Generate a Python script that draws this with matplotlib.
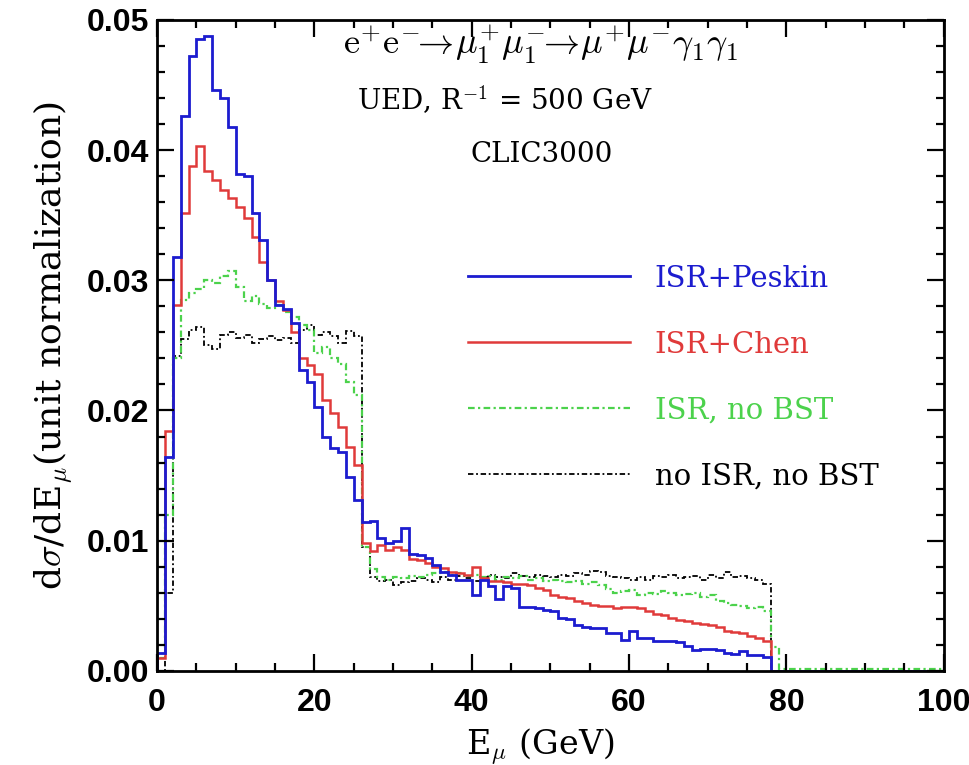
import matplotlib
matplotlib.use("Agg")
import matplotlib.pyplot as plt
import matplotlib.ticker as ticker
import numpy as np

plt.rcParams['mathtext.fontset'] = 'cm'

# 1 GeV bins from 0 to 100 GeV
edges = np.arange(0, 101)

peskin = [0.0014, 0.0164, 0.0318, 0.0426, 0.0472, 0.0485, 0.0488, 0.0446, 0.0440, 0.0418,
          0.0382, 0.0380, 0.0352, 0.0331, 0.0300, 0.0281, 0.0278, 0.0267, 0.0231, 0.0222,
          0.0203, 0.0180, 0.0171, 0.0168, 0.0149, 0.0131, 0.0114, 0.0115, 0.0102, 0.0098,
          0.0100, 0.0110, 0.0090, 0.0089, 0.0087, 0.0081, 0.0076, 0.0074, 0.0070, 0.0070,
          0.0058, 0.0070, 0.0065, 0.0055, 0.0065, 0.0064, 0.0049, 0.0049, 0.0048, 0.0047,
          0.0046, 0.0041, 0.0040, 0.0035, 0.0034, 0.0033, 0.0033, 0.0029, 0.0029, 0.0024,
          0.0031, 0.0025, 0.0025, 0.0023, 0.0023, 0.0023, 0.0022, 0.0019, 0.0016, 0.0017,
          0.0017, 0.0016, 0.0014, 0.0013, 0.0015, 0.0012, 0.0012, 0.0011, 0.0, 0.0,
          0.0, 0.0, 0.0, 0.0, 0.0, 0.0, 0.0, 0.0, 0.0, 0.0,
          0.0, 0.0, 0.0, 0.0, 0.0, 0.0, 0.0, 0.0, 0.0, 0.0]

chen = [0.0010, 0.0184, 0.0281, 0.0352, 0.0388, 0.0403, 0.0384, 0.0377, 0.0369, 0.0363,
        0.0356, 0.0348, 0.0333, 0.0314, 0.0300, 0.0284, 0.0277, 0.0260, 0.0240, 0.0235,
        0.0228, 0.0208, 0.0198, 0.0187, 0.0172, 0.0158, 0.0098, 0.0092, 0.0097, 0.0093,
        0.0095, 0.0093, 0.0086, 0.0085, 0.0083, 0.0080, 0.0079, 0.0076, 0.0075, 0.0074,
        0.0080, 0.0071, 0.0069, 0.0069, 0.0068, 0.0067, 0.0067, 0.0066, 0.0064, 0.0062,
        0.0058, 0.0057, 0.0056, 0.0054, 0.0052, 0.0051, 0.0050, 0.0050, 0.0048, 0.0049,
        0.0049, 0.0048, 0.0046, 0.0044, 0.0043, 0.0041, 0.0039, 0.0038, 0.0037, 0.0036,
        0.0035, 0.0034, 0.0031, 0.0030, 0.0029, 0.0027, 0.0025, 0.0023, 0.0, 0.0,
        0.0, 0.0, 0.0, 0.0, 0.0, 0.0, 0.0, 0.0, 0.0, 0.0,
        0.0, 0.0, 0.0, 0.0, 0.0, 0.0, 0.0, 0.0, 0.0, 0.0]

isr_nobst = [0.0010, 0.0120, 0.0240, 0.0285, 0.0290, 0.0293, 0.0300, 0.0298, 0.0303, 0.0307,
             0.0295, 0.0284, 0.0288, 0.0282, 0.0279, 0.0281, 0.0276, 0.0272, 0.0266, 0.0262,
             0.0244, 0.0249, 0.0240, 0.0236, 0.0222, 0.0212, 0.0095, 0.0078, 0.0072, 0.0070,
             0.0072, 0.0071, 0.0073, 0.0072, 0.0074, 0.0075, 0.0076, 0.0074, 0.0075, 0.0073,
             0.0074, 0.0072, 0.0073, 0.0070, 0.0072, 0.0071, 0.0073, 0.0070, 0.0071, 0.0069,
             0.0070, 0.0069, 0.0068, 0.0069, 0.0067, 0.0068, 0.0066, 0.0063, 0.0060, 0.0061,
             0.0062, 0.0058, 0.0060, 0.0059, 0.0061, 0.0060, 0.0058, 0.0059, 0.0060, 0.0057,
             0.0058, 0.0054, 0.0052, 0.0051, 0.0050, 0.0048, 0.0049, 0.0046, 0.0018, 0.00015,
             0.00015, 0.00015, 0.00015, 0.00015, 0.00015, 0.00015, 0.00015, 0.00015, 0.00015, 0.00015,
             0.00015, 0.00015, 0.00015, 0.00015, 0.00015, 0.00015, 0.00015, 0.00015, 0.00015, 0.00015]

noisr_nobst = [0.0, 0.0060, 0.0242, 0.0255, 0.0262, 0.0264, 0.0250, 0.0247, 0.0258, 0.0260,
               0.0256, 0.0258, 0.0252, 0.0255, 0.0257, 0.0254, 0.0256, 0.0252, 0.0262, 0.0266,
               0.0258, 0.0260, 0.0257, 0.0252, 0.0261, 0.0257, 0.0095, 0.0072, 0.0069, 0.0070,
               0.0066, 0.0068, 0.0069, 0.0071, 0.0070, 0.0068, 0.0072, 0.0070, 0.0073, 0.0071,
               0.0069, 0.0072, 0.0074, 0.0072, 0.0071, 0.0075, 0.0073, 0.0072, 0.0074, 0.0073,
               0.0072, 0.0074, 0.0073, 0.0075, 0.0074, 0.0077, 0.0076, 0.0073, 0.0072, 0.0071,
               0.0070, 0.0072, 0.0070, 0.0073, 0.0072, 0.0074, 0.0071, 0.0072, 0.0073, 0.0070,
               0.0074, 0.0071, 0.0076, 0.0072, 0.0073, 0.0071, 0.0070, 0.0067, 0.0, 0.0,
               0.0, 0.0, 0.0, 0.0, 0.0, 0.0, 0.0, 0.0, 0.0, 0.0,
               0.0, 0.0, 0.0, 0.0, 0.0, 0.0, 0.0, 0.0, 0.0, 0.0]

labels = ["ISR+Peskin", "ISR+Chen", "ISR, no BST", "no ISR, no BST"]
colors = ["#1c1ccf", "#e03a3a", "#4cd24c", "black"]

fig = plt.figure(figsize=(9.7, 7.65), dpi=100)
ax = fig.add_axes([0.162, 0.123, 0.811, 0.851])

dashdot = (0, (3, 1.5, 1, 1.5))
h_black = ax.stairs(noisr_nobst, edges, color=colors[3], lw=1.3, ls=dashdot)
h_green = ax.stairs(isr_nobst, edges, color=colors[2], lw=1.6, ls=dashdot)
h_red = ax.stairs(chen, edges, color=colors[1], lw=1.8)
h_blue = ax.stairs(peskin, edges, color=colors[0], lw=2.0)

ax.set_xlim(0, 100)
ax.set_ylim(0, 0.05)

ax.xaxis.set_major_locator(ticker.MultipleLocator(20))
ax.xaxis.set_minor_locator(ticker.MultipleLocator(5))
ax.yaxis.set_major_locator(ticker.MultipleLocator(0.01))
ax.yaxis.set_minor_locator(ticker.MultipleLocator(0.002))
ax.yaxis.set_major_formatter(ticker.FormatStrFormatter('%.2f'))

ax.tick_params(which='both', direction='in', top=True, right=True, width=1.6)
ax.tick_params(which='major', length=12)
ax.tick_params(which='minor', length=6)
ax.tick_params(axis='x', pad=12)
ax.tick_params(axis='y', pad=6)
for lab in ax.get_xticklabels() + ax.get_yticklabels():
    lab.set_fontfamily('Liberation Sans')
    lab.set_fontweight('bold')
    lab.set_fontsize(23)
for sp in ax.spines.values():
    sp.set_linewidth(2.0)

ax.set_xlabel(r'E$_\mu$ (GeV)', fontfamily='DejaVu Serif', fontsize=24, labelpad=6)
ax.xaxis.label.set_x(0.487)
ax.set_ylabel(r'd$\sigma$/dE$_\mu$(unit normalization)', fontfamily='DejaVu Serif',
              fontsize=26, labelpad=8)

ax.text(0.487, 0.962,
        r'$\mathrm{e}^{+}\mathrm{e}^{-}\!\!\rightarrow\!\mu_1^{+}\mu_1^{-}\!\!\rightarrow\!\mu^{+}\mu^{-}\gamma_1\gamma_1$',
        transform=ax.transAxes, ha='center', va='center', fontsize=26)
ax.text(0.442, 0.877, r'UED, R$^{-1}$ = 500 GeV', transform=ax.transAxes,
        ha='center', va='center', fontfamily='DejaVu Serif', fontsize=20)
ax.text(0.398, 0.793, 'CLIC3000', transform=ax.transAxes,
        ha='left', va='center', fontfamily='DejaVu Serif', fontsize=20)

leg = ax.legend([h_blue, h_red, h_green, h_black], labels, loc='upper left',
                bbox_to_anchor=(0.395, 0.624), borderaxespad=0, borderpad=0,
                frameon=False, handlelength=5.55, handletextpad=0.86,
                labelspacing=1.3, labelcolor=colors,
                prop={'family': 'DejaVu Serif', 'size': 21})

fig.savefig('out.png', dpi=100)
